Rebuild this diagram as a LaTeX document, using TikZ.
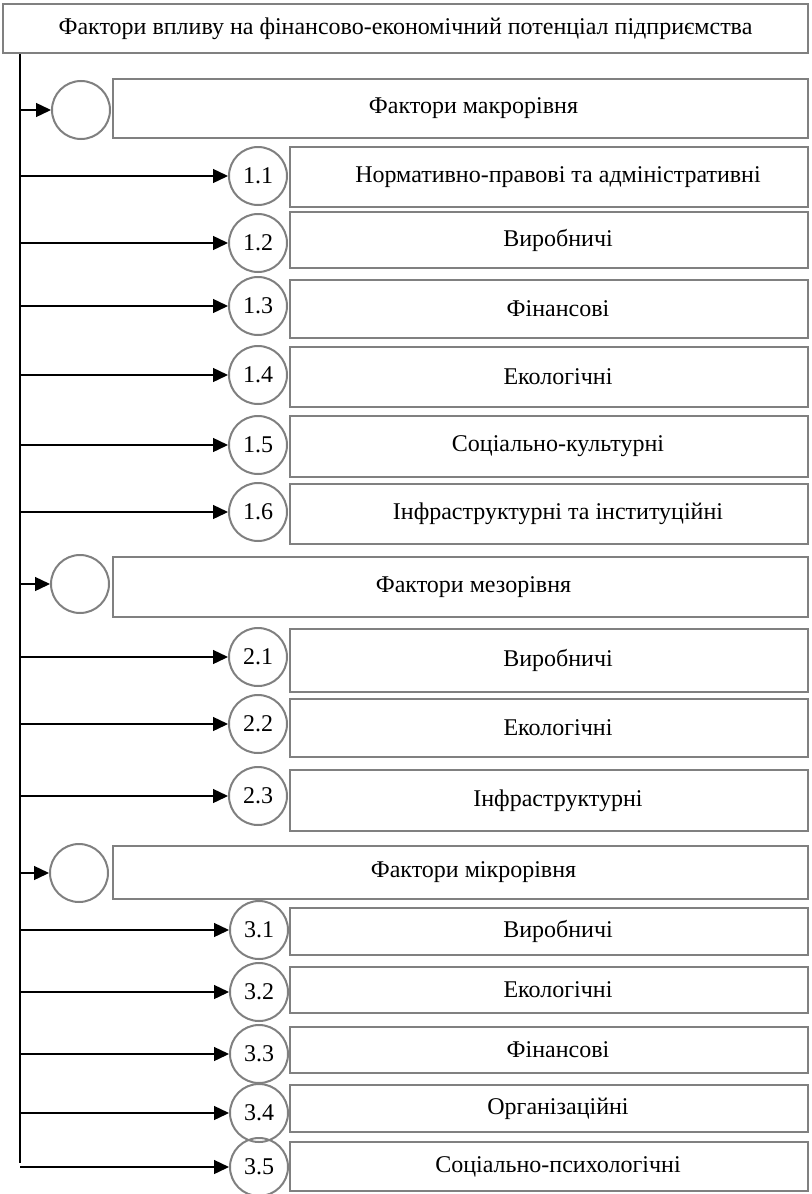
\documentclass[tikz,border=0pt]{standalone}
\usepackage{fontspec}
\setmainfont{Liberation Serif}
\usetikzlibrary{arrows.meta}
\definecolor{framegray}{RGB}{128,128,128}
\begin{document}
\begin{tikzpicture}[x=0.5pt,y=-0.5pt,
  font=\fontsize{12}{14}\selectfont,
  box/.style={rectangle, draw=framegray, line width=1pt, inner sep=0pt},
  topbox/.style={box, minimum width=402.5pt, minimum height=24.5pt},
  levelbox/.style={box, minimum width=347.5pt, execute at begin node=\hspace*{13pt}},
  subbox/.style={box, minimum width=259pt, execute at begin node=\hspace*{9pt}},
  numc/.style={circle, draw=framegray, line width=1pt, minimum size=29pt, inner sep=0pt},
  arr/.style={-{Triangle[length=7.5pt,width=7pt]}, line width=0.7pt}]
  \useasboundingbox (0,0) rectangle (811,1194);

  % Title box and the common line
  \node[topbox] (title) at (405.5,28.5) {Фактори впливу на фінансово-економічний потенціал підприємства};
  \coordinate (spine) at (20,53);
  \coordinate (spineend) at (20,1163);
  \draw[line width=0.7pt] (title.south -| spine) -- (spineend);

  % Macro level
  \node[numc] (c1) at (81,110) {};
  \node[levelbox, minimum height=29.5pt] (b1) at (460.5,108.5) {Фактори макрорівня};
  \draw[arr] (c1 -| spine) -- (c1);

  \node[numc] (c11) at (258,176) {1.1};
  \node[subbox, minimum height=30pt] (b11) at (549,177) {Нормативно-правові та адміністративні};
  \draw[arr] (c11 -| spine) -- (c11);

  \node[numc] (c12) at (258,243) {1.2};
  \node[subbox, minimum height=28pt] (b12) at (549,240) {Виробничі};
  \draw[arr] (c12 -| spine) -- (c12);

  \node[numc] (c13) at (258,306) {1.3};
  \node[subbox, minimum height=29pt] (b13) at (549,309) {Фінансові};
  \draw[arr] (c13 -| spine) -- (c13);

  \node[numc] (c14) at (258,375) {1.4};
  \node[subbox, minimum height=30pt] (b14) at (549,377) {Екологічні};
  \draw[arr] (c14 -| spine) -- (c14);

  \node[numc] (c15) at (258,445) {1.5};
  \node[subbox, minimum height=30.5pt] (b15) at (549,446.5) {Соціально-культурні};
  \draw[arr] (c15 -| spine) -- (c15);

  \node[numc] (c16) at (258,512) {1.6};
  \node[subbox, minimum height=30pt] (b16) at (549,514) {Інфраструктурні та інституційні};
  \draw[arr] (c16 -| spine) -- (c16);

  % Meso level
  \node[numc] (c2) at (80,584) {};
  \node[levelbox, minimum height=30pt] (b2) at (460.5,587) {Фактори мезорівня};
  \draw[arr] (c2 -| spine) -- (c2);

  \node[numc] (c21) at (258,657) {2.1};
  \node[subbox, minimum height=31.5pt] (b21) at (549,660.5) {Виробничі};
  \draw[arr] (c21 -| spine) -- (c21);

  \node[numc] (c22) at (258,724) {2.2};
  \node[subbox, minimum height=29pt] (b22) at (549,728) {Екологічні};
  \draw[arr] (c22 -| spine) -- (c22);

  \node[numc] (c23) at (258,796) {2.3};
  \node[subbox, minimum height=30.5pt] (b23) at (549,800.5) {Інфраструктурні};
  \draw[arr] (c23 -| spine) -- (c23);

  % Micro level
  \node[numc] (c3) at (79,873) {};
  \node[levelbox, minimum height=26.5pt] (b3) at (460.5,872.5) {Фактори мікрорівня};
  \draw[arr] (c3 -| spine) -- (c3);

  \node[numc] (c31) at (259,930) {3.1};
  \node[subbox, minimum height=23.5pt] (b31) at (549,931.5) {Виробничі};
  \draw[arr] (c31 -| spine) -- (c31);

  \node[numc] (c32) at (259,992) {3.2};
  \node[subbox, minimum height=23pt] (b32) at (549,990) {Екологічні};
  \draw[arr] (c32 -| spine) -- (c32);

  \node[numc] (c33) at (259,1054) {3.3};
  \node[subbox, minimum height=23pt] (b33) at (549,1050) {Фінансові};
  \draw[arr] (c33 -| spine) -- (c33);

  \node[numc] (c34) at (259,1113) {3.4};
  \node[subbox, minimum height=23.5pt] (b34) at (549,1108.5) {Організаційні};
  \draw[arr] (c34 -| spine) -- (c34);

  \node[numc] (c35) at (259,1167) {3.5};
  \node[subbox, minimum height=24.5pt] (b35) at (549,1166.5) {Соціально-психологічні};
  \draw[arr] (c35 -| spine) -- (c35);
\end{tikzpicture}
\end{document}
